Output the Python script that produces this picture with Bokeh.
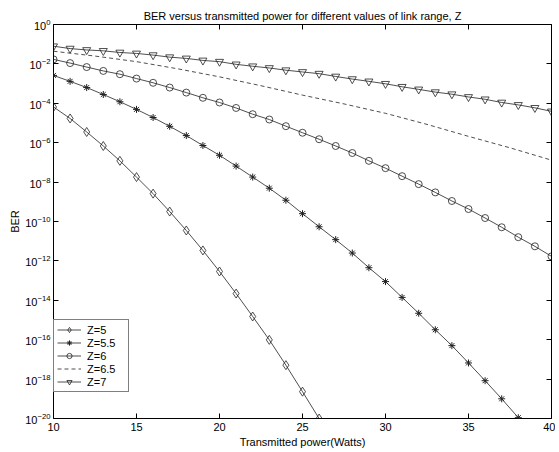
from bokeh.plotting import figure
from bokeh.models import (FixedTicker, LogAxis, LinearAxis, Legend, LegendItem,
                          Range1d, CustomJSTickFormatter)
from bokeh.embed import file_html
from bokeh.resources import INLINE

# ---- data ----
power_z5 = list(range(10, 27))
ber_z5 = [6.5e-5, 1.7e-5, 3.5e-6, 6.8e-7, 1.2e-7, 1.8e-8, 2.6e-9, 3.2e-10, 3.5e-11,
          3.4e-12, 2.9e-13, 2.2e-14, 1.5e-15, 9.8e-17, 5.1e-18, 2.3e-19, 1.0e-20]

power_z55 = list(range(10, 39))
ber_z55 = [2.6e-3, 1.3e-3, 6.3e-4, 2.8e-4, 1.2e-4, 4.9e-5, 1.9e-5, 6.8e-6, 2.3e-6,
           7.2e-7, 2.3e-7, 6.5e-8, 1.8e-8, 4.9e-9, 1.2e-9, 2.5e-10, 5.4e-11, 1.2e-11,
           2.5e-12, 4.5e-13, 8.9e-14, 1.4e-14, 2.2e-15, 3.2e-16, 5.0e-17, 6.6e-18,
           8.3e-19, 1.0e-19, 1.1e-20]

power_z6 = list(range(10, 41))
ber_z6 = [1.7e-2, 1.1e-2, 6.9e-3, 4.4e-3, 3.0e-3, 1.8e-3, 1.1e-3, 6.3e-4, 3.5e-4,
          1.9e-4, 1.1e-4, 5.8e-5, 2.8e-5, 1.5e-5, 6.9e-6, 3.2e-6, 1.5e-6, 6.8e-7,
          3.0e-7, 1.2e-7, 5.1e-8, 2.0e-8, 7.9e-9, 3.0e-9, 1.1e-9, 4.3e-10, 1.5e-10,
          5.1e-11, 1.6e-11, 5.5e-12, 1.7e-12]

power_z65 = [10, 12.5, 15, 17.5, 20, 22.5, 25, 27.5, 30, 32.5, 35, 37.5, 40]
ber_z65 = [4.4e-2, 2.5e-2, 1.3e-2, 5.6e-3, 2.2e-3, 7.8e-4, 2.6e-4, 9.3e-5, 3.1e-5,
           8.5e-6, 2.1e-6, 5.5e-7, 1.3e-7]

power_z7 = list(range(10, 41))
ber_z7 = [7.9e-2, 6.0e-2, 5.1e-2, 4.6e-2, 3.8e-2, 3.4e-2, 2.8e-2, 2.2e-2, 1.9e-2,
          1.5e-2, 1.3e-2, 9.5e-3, 7.6e-3, 6.2e-3, 4.8e-3, 3.9e-3, 3.2e-3, 2.3e-3,
          1.7e-3, 1.3e-3, 9.8e-4, 6.9e-4, 5.1e-4, 3.7e-4, 2.9e-4, 2.1e-4, 1.6e-4,
          1.1e-4, 8.3e-5, 5.9e-5, 3.9e-5]

x_ticks = [10, 15, 20, 25, 30, 35, 40]
y_ticks = [1e-20, 1e-18, 1e-16, 1e-14, 1e-12, 1e-10, 1e-8, 1e-6, 1e-4, 1e-2, 1e0]

TITLE = "BER versus transmitted power for different values of link range, Z"
FONT = "Liberation Sans"

p = figure(output_backend="svg", toolbar_location=None,
           frame_width=498, frame_height=394,
           min_border_left=53, min_border_right=4, min_border_top=24, min_border_bottom=0,
           y_axis_type="log",
           x_range=Range1d(10, 40), y_range=Range1d(1e-20, 1))

p.grid.visible = False
p.outline_line_color = "black"
p.outline_line_width = 1
p.background_fill_color = "white"
p.border_fill_color = "white"

xa = p.xaxis[0]
ya = p.yaxis[0]
xa.ticker = FixedTicker(ticks=x_ticks)
ya.ticker = FixedTicker(ticks=y_ticks)

# mirrored tick marks on top and right (box style), no tick labels;
# the top axis carries the chart title as its label
blank = CustomJSTickFormatter(code="return ''")
top = LinearAxis(ticker=FixedTicker(ticks=x_ticks), formatter=blank)
right = LogAxis(ticker=FixedTicker(ticks=y_ticks), formatter=blank)
p.add_layout(top, "above")
p.add_layout(right, "right")

for ax in (xa, ya, top, right):
    ax.major_tick_in = 5
    ax.major_tick_out = 0
    ax.minor_tick_in = 0
    ax.minor_tick_out = 0
    ax.axis_line_color = None
    ax.major_tick_line_color = "black"
    ax.major_label_text_font = FONT
    ax.major_label_text_font_size = "11px"
    ax.major_label_text_color = "black"
    ax.axis_label_text_font = FONT
    ax.axis_label_text_font_size = "11px"
    ax.axis_label_text_font_style = "normal"
    ax.axis_label_text_color = "black"

xa.major_label_standoff = 4
xa.axis_label_standoff = 2
ya.major_label_standoff = 3
ya.axis_label_standoff = 1
top.major_label_standoff = 0
top.axis_label_standoff = 3
right.major_label_standoff = 0
xa.axis_label = "Transmitted power(Watts)"
ya.axis_label = "BER"
top.axis_label = TITLE

LC = "#222222"
r5 = p.line(power_z5, ber_z5, line_color=LC, line_width=0.8)
m5 = p.scatter(power_z5, ber_z5, marker="diamond", size=9, line_color=LC,
               fill_alpha=0, line_width=0.8)
r55 = p.line(power_z55, ber_z55, line_color=LC, line_width=0.8)
m55 = p.scatter(power_z55, ber_z55, marker="asterisk", size=7, line_color=LC,
                line_width=1)
r6 = p.line(power_z6, ber_z6, line_color=LC, line_width=0.8)
m6 = p.scatter(power_z6, ber_z6, marker="circle", size=7, line_color=LC,
               fill_alpha=0, line_width=0.8)
r65 = p.line(power_z65, ber_z65, line_color=LC, line_width=0.8, line_dash="4 3")
r7 = p.line(power_z7, ber_z7, line_color=LC, line_width=0.8)
m7 = p.scatter(power_z7, ber_z7, marker="inverted_triangle", size=8, line_color=LC,
               fill_alpha=0, line_width=0.8)

legend = Legend(items=[
    LegendItem(label="Z=5", renderers=[r5, m5]),
    LegendItem(label="Z=5.5", renderers=[r55, m55]),
    LegendItem(label="Z=6", renderers=[r6, m6]),
    LegendItem(label="Z=6.5", renderers=[r65]),
    LegendItem(label="Z=7", renderers=[r7, m7]),
], location=(0, 26))
legend.label_text_font = FONT
legend.label_text_font_size = "11px"
legend.label_text_color = "black"
legend.glyph_width = 24
legend.glyph_height = 13
legend.label_height = 13
legend.label_width = 38
legend.spacing = 0
legend.padding = 3
legend.margin = 0
legend.label_standoff = 6
legend.border_line_color = "black"
legend.border_line_width = 1
legend.background_fill_color = "white"
legend.background_fill_alpha = 1
p.add_layout(legend, "center")

open("out.html", "w").write(file_html(p, INLINE))
